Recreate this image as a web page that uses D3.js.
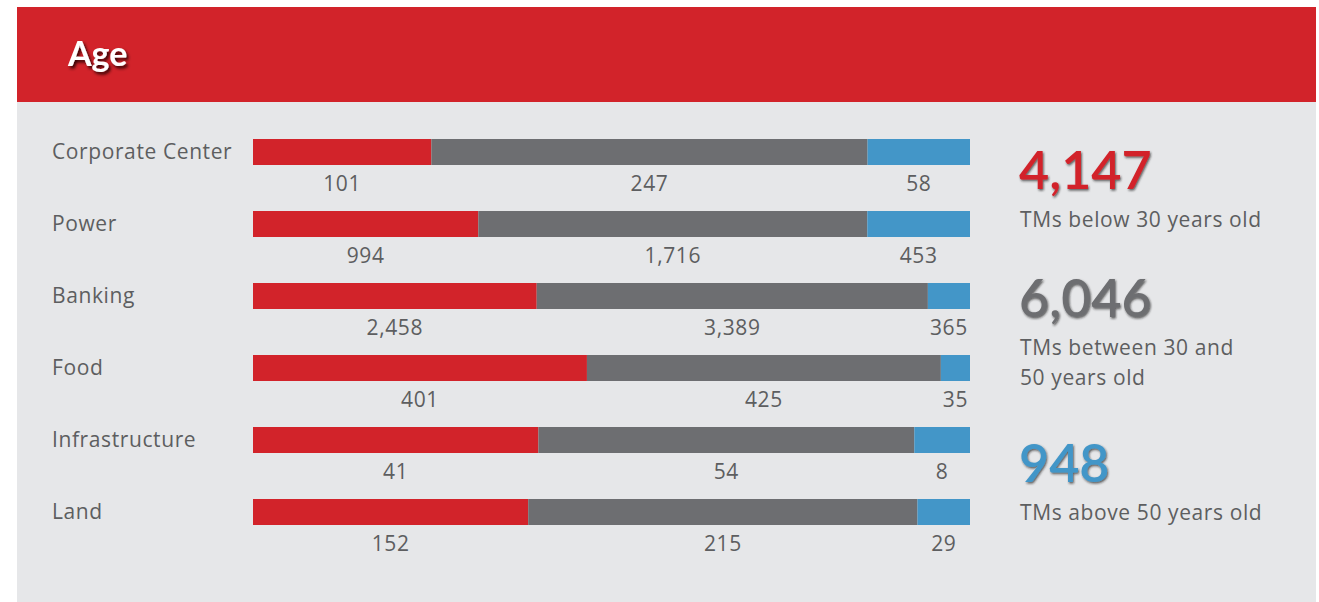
<!DOCTYPE html>
<html>
<head>
<meta charset="utf-8">
<script src="https://cdnjs.cloudflare.com/ajax/libs/d3/7.8.5/d3.min.js"></script>
<style>
  html, body { margin: 0; padding: 0; background: #ffffff; }
  svg { display: block; }
  text { font-family: "Open Sans", Lato, sans-serif; }
</style>
</head>
<body>
<svg id="chart" width="1319" height="602"></svg>
<script>
// Team members by business unit and age band
const units = ["Corporate Center", "Power", "Banking", "Food", "Infrastructure", "Land"];
const below30 = [101, 994, 2458, 401, 41, 152];
const between30and50 = [247, 1716, 3389, 425, 54, 215];
const above50 = [58, 453, 365, 35, 8, 29];

const bands = [
  { key: "below30", values: below30, color: "#d2232a", caption: ["TMs below 30 years old"] },
  { key: "between", values: between30and50, color: "#6d6e71", caption: ["TMs between 30 and", "50 years old"] },
  { key: "above50", values: above50, color: "#4396c8", caption: ["TMs above 50 years old"] }
];

const svg = d3.select("#chart");
const W = 1319, H = 602;
const fmt = d3.format(",");
const textGrey = "#5d5e60";
const spacing = 0.6;

// Drop shadows for the title and the headline totals
const defs = svg.append("defs");
const sh = defs.append("filter").attr("id", "shadow")
  .attr("x", "-15%").attr("y", "-15%").attr("width", "140%").attr("height", "150%");
sh.append("feDropShadow").attr("dx", 2).attr("dy", 2.5).attr("stdDeviation", 1.6)
  .attr("flood-color", "#200505").attr("flood-opacity", 0.9);
const sh2 = defs.append("filter").attr("id", "emboss")
  .attr("x", "-10%").attr("y", "-10%").attr("width", "130%").attr("height", "140%");
sh2.append("feDropShadow").attr("dx", 1).attr("dy", 1.5).attr("stdDeviation", 0.8)
  .attr("flood-color", "#1a1a1a").attr("flood-opacity", 0.7);

// Panel and header band
svg.append("rect").attr("x", 17).attr("y", 102).attr("width", 1299).attr("height", H - 102)
  .attr("fill", "#e6e7e9");
svg.append("rect").attr("x", 17).attr("y", 7).attr("width", 1299).attr("height", 95)
  .attr("fill", "#d2232a");
svg.append("text").attr("x", 68).attr("y", 66)
  .style("font-family", "Lato, sans-serif")
  .attr("fill", "#ffffff").attr("font-size", 34).attr("font-weight", 700)
  .attr("filter", "url(#shadow)")
  .text("Age");

// Layout of the stacked bars
const barLeft = 253, barRight = 970;
const x = d3.scaleLinear().domain([0, 1]).range([barLeft, barRight]);
const y = d3.scaleBand().domain(units).range([139, 139 + 72 * units.length]).paddingInner(0).paddingOuter(0);
const barH = 26;

const rows = units.map((u, i) => {
  const vals = bands.map(b => b.values[i]);
  const total = d3.sum(vals);
  let acc = 0;
  const segs = bands.map((b, j) => {
    const s = { unit: u, value: vals[j], x0: acc / total, color: b.color };
    acc += vals[j];
    s.x1 = acc / total;
    return s;
  });
  return { unit: u, segs };
});

const g = svg.append("g");
const row = g.selectAll("g.row").data(rows).join("g").attr("class", "row")
  .attr("transform", d => `translate(0,${y(d.unit)})`);

row.append("text")
  .attr("x", 52).attr("y", barH / 2).attr("dy", "0.35em")
  .attr("fill", textGrey).attr("font-size", 21).attr("letter-spacing", spacing)
  .text(d => d.unit);

row.selectAll("rect.seg").data(d => d.segs).join("rect").attr("class", "seg")
  .attr("x", d => x(d.x0)).attr("y", 0)
  .attr("width", d => x(d.x1) - x(d.x0)).attr("height", barH)
  .attr("fill", d => d.color);

row.selectAll("text.val").data(d => d.segs).join("text").attr("class", "val")
  .attr("x", d => (x(d.x0) + x(d.x1)) / 2).attr("y", 51.5)
  .attr("text-anchor", "middle")
  .attr("fill", textGrey).attr("font-size", 21).attr("letter-spacing", spacing)
  .text(d => fmt(d.value));

// Headline totals per age band
const totalsY = [189, 317, 482];
const side = svg.append("g");
bands.forEach((b, i) => {
  const t = d3.sum(b.values);
  side.append("text").attr("x", 1019).attr("y", totalsY[i])
    .style("font-family", "Lato, sans-serif")
    .attr("fill", b.color).attr("font-size", 52).attr("font-weight", 600)
    .attr("filter", "url(#emboss)")
    .text(fmt(t));
  b.caption.forEach((line, k) => {
    side.append("text").attr("x", 1020).attr("y", totalsY[i] + 38 + k * 30)
      .attr("fill", textGrey).attr("font-size", 21).attr("letter-spacing", spacing)
      .text(line);
  });
});
</script>
</body>
</html>
